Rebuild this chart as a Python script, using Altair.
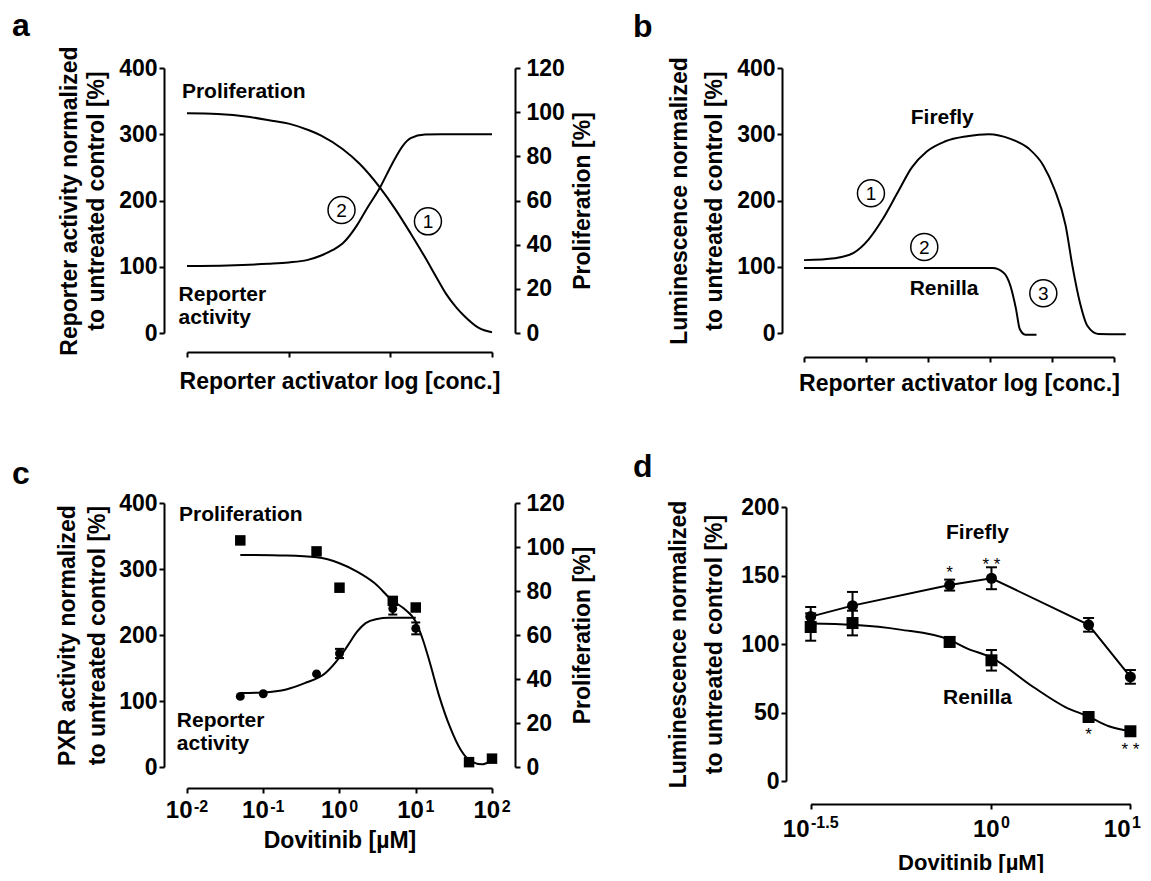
import altair as alt
import pandas as pd

FONT = "Liberation Sans"
W, H = 1135, 865

# ---------------- Panel a : schematic ----------------
a_rep_x = [0.0, 0.4, 0.8, 1.0, 1.18, 1.32, 1.43, 1.53, 1.67, 1.77, 1.9, 2.02, 2.13, 2.2, 2.34, 2.5, 3.0]
a_rep_y = [101, 102, 104.5, 106.5, 110, 117, 125, 135, 162, 188, 220, 256, 284, 294, 299.5, 300, 300]
a_pro_x = [0.0, 0.3, 0.62, 0.85, 1.0, 1.2, 1.32, 1.53, 1.7, 1.9, 2.05, 2.2, 2.34, 2.45, 2.55, 2.65, 2.73, 2.87, 3.0]
a_pro_y = [99.5, 99.2, 97.8, 96.0, 94.8, 91.8, 89.4, 83.3, 76.5, 65.7, 56.0, 45.1, 34.4, 25.5, 17.6, 11.5, 7.6, 2.3, 0.3]
a_lab_text = ["Proliferation", "Reporter", "activity"]
a_lab_x = [-0.05, -0.083, -0.083]
a_lab_y = [364.5, 57.4, 22.0]
a_num_text = ["2", "1"]
a_num_x = [1.52, 2.37]
a_num_y = [185.7, 168.6]

# ---------------- Panel b : schematic ----------------
b_ff_x = [0, 0.5, 0.8, 1.04, 1.27, 1.51, 1.74, 1.98, 2.27, 2.63, 2.98, 3.33, 3.63, 3.86, 4.04, 4.22, 4.33, 4.45, 4.57, 4.75, 5.19]
b_ff_y = [110, 113, 121, 141, 172, 212, 250, 274, 289, 297, 300, 293, 278, 253, 217, 162, 101, 46, 11, -1.5, -2]
b_rn_x = [0, 3.04, 3.22, 3.33, 3.42, 3.48, 3.57, 3.75]
b_rn_y = [98, 98, 91, 71, 36, 6, -2.5, -2.5]
b_lab_text = ["Firefly", "Renilla"]
b_lab_x = [2.23, 2.26]
b_lab_y = [325, 66]
b_num_text = ["1", "2", "3"]
b_num_x = [1.08, 1.94, 3.86]
b_num_y = [211, 130, 60]

# ---------------- Panel c : Dovitinib, PXR ----------------
c_pro_conc = [0.05, 0.5, 1, 5, 10, 50, 100]
c_pro_val = [103, 98, 81.5, 75.5, 72.5, 2.2, 3.8]
c_rep_conc = [0.05, 0.1, 0.5, 1, 5, 10]
c_rep_val = [107, 111, 141, 172, 240, 210]
c_rep_err = [0, 0, 0, 7, 9, 9]
c_rep_fit_x = [0.05, 0.1, 0.2, 0.35, 0.65, 1.0, 1.3, 1.7, 2.2, 3.0, 4.5, 10]
c_rep_fit_y = [112, 113, 117.5, 127, 142, 166, 185, 205, 218, 224, 226, 226]
c_pro_fit_x = [0.05, 0.2, 0.5, 1.0, 1.7, 2.9, 5, 7, 10, 12.5, 15, 20.4, 28, 39, 54, 74, 100]
c_pro_fit_y = [96.4, 96.1, 95.3, 92.6, 88.8, 83.5, 75.5, 72.0, 66.0, 57.5, 48.5, 32.0, 18.3, 7.7, 2.4, 1.2, 3.0]
c_lab_text = ["Proliferation", "Reporter", "activity"]
c_lab_x = [0.00785, 0.00735, 0.00735]
c_lab_y = [381.5, 69.7, 34.8]
c_ticks = [0.01, 0.1, 1, 10, 100]
c_exps = ["-2", "-1", "0", "1", "2"]

# ---------------- Panel d : Dovitinib, Firefly / Renilla ----------------
d_conc = [0.05, 0.1, 0.5, 1, 5, 10]
d_ff = [120, 128, 143, 148, 114, 76]
d_ff_err = [7, 10, 4, 8, 5, 5]
d_rn = [112.4, 115.3, 101.5, 88.1, 46.7, 36.3]
d_rn_err = [10, 9, 3.5, 7.5, 1, 1]
d_fit_x = [0.05, 0.1, 0.22, 0.5, 0.66, 1.0, 2.0, 3.4, 5, 7, 10]
d_fit_y = [115, 114, 110.5, 103, 97, 90, 68.6, 54, 47, 40, 36.3]
d_lab_text = ["Firefly", "Renilla"]
d_lab_x = [0.794, 0.794]
d_lab_y = [181.2, 60.8]
d_star_text = ["*", "* *", "*", "* *"]
d_star_x = [0.5, 1.0, 5, 10]
d_star_y = [151.8, 157.3, 33.7, 22.8]
d_ticks = [0.05, 1, 10]
d_exps = ["-1.5", "0", "1"]

# label nudges (styling only, pixels)
c_label_shift = [0, 0, 0, 0, 0]
d_label_shift = [0, 0, -8]


# ---------------- helpers ----------------
def lin(domain, rng):
    return alt.Scale(type="linear", domain=domain, range=rng, nice=False, zero=False)


def logs(domain, rng):
    return alt.Scale(type="log", domain=domain, range=rng, nice=False)


def line(xv, yv, xs, ys, xaxis=None, yaxis=None, interp="monotone"):
    d = pd.DataFrame({"x": xv, "y": yv})
    return alt.Chart(d).mark_line(color="black", strokeWidth=2, interpolate=interp).encode(
        x=alt.X("x:Q", scale=xs, axis=xaxis),
        y=alt.Y("y:Q", scale=ys, axis=yaxis),
    )


def texts(tv, xv, yv, xs, ys, size=21, weight="bold", align="left"):
    d = pd.DataFrame({"x": xv, "y": yv, "t": tv})
    return alt.Chart(d).mark_text(font=FONT, fontSize=size, fontWeight=weight, align=align,
                                  baseline="middle", color="black").encode(
        x=alt.X("x:Q", scale=xs, axis=None),
        y=alt.Y("y:Q", scale=ys, axis=None),
        text="t:N",
    )


def circled(tv, xv, yv, xs, ys):
    d = pd.DataFrame({"x": xv, "y": yv, "t": tv})
    ring = alt.Chart(d).mark_point(shape="circle", size=729, filled=False, color="black",
                                   strokeWidth=1.5, opacity=1).encode(
        x=alt.X("x:Q", scale=xs, axis=None), y=alt.Y("y:Q", scale=ys, axis=None))
    num = alt.Chart(d).mark_text(font=FONT, fontSize=19, fontWeight="normal", align="center",
                                 baseline="middle", color="black", dy=1).encode(
        x=alt.X("x:Q", scale=xs, axis=None), y=alt.Y("y:Q", scale=ys, axis=None), text="t:N")
    return [ring, num]


def markers(xv, yv, xs, ys, shape, size):
    d = pd.DataFrame({"x": xv, "y": yv})
    return alt.Chart(d).mark_point(shape=shape, size=size, filled=True, color="black", opacity=1).encode(
        x=alt.X("x:Q", scale=xs, axis=None), y=alt.Y("y:Q", scale=ys, axis=None))


def errbars(xv, yv, ev, xs, ys, cap):
    rows = [(x, y - e, y + e) for x, y, e in zip(xv, yv, ev) if e > 0]
    d = pd.DataFrame(rows, columns=["x", "lo", "hi"])
    out = [alt.Chart(d).mark_rule(color="black", strokeWidth=2).encode(
        x=alt.X("x:Q", scale=xs, axis=None),
        y=alt.Y("lo:Q", scale=ys, axis=None), y2="hi:Q")]
    for f in ["lo", "hi"]:
        out.append(alt.Chart(d).mark_point(shape="M -1 0 L 1 0", size=cap * cap, filled=False,
                                           color="black", strokeWidth=2, opacity=1).encode(
            x=alt.X("x:Q", scale=xs, axis=None), y=alt.Y(f + ":Q", scale=ys, axis=None)))
    return out


def log_labels(ticks, exps, shifts, xs, y10, yexp, f10=24, fexp=16):
    out = []
    for t, e, s in zip(ticks, exps, shifts):
        w10 = 2 * 0.556 * f10
        we = sum(0.333 if ch == "-" else 0.278 if ch == "." else 0.556 for ch in e) * fexp
        gap = 1.5
        left = -(w10 + gap + we) / 2 + s
        d = pd.DataFrame({"x": [t], "t": ["10"], "e": [e]})
        out.append(alt.Chart(d).mark_text(font=FONT, fontSize=f10, fontWeight="bold", align="right",
                                          baseline="alphabetic", dx=left + w10, color="black").encode(
            x=alt.X("x:Q", scale=xs, axis=None), y=alt.value(y10), text="t:N"))
        out.append(alt.Chart(d).mark_text(font=FONT, fontSize=fexp, fontWeight="bold", align="left",
                                          baseline="alphabetic", dx=left + w10 + gap, color="black").encode(
            x=alt.X("x:Q", scale=xs, axis=None), y=alt.value(yexp), text="e:N"))
    return out


def letter(t, px, py):
    d = pd.DataFrame({"t": [t]})
    return alt.Chart(d).mark_text(font=FONT, fontSize=32, fontWeight="bold", align="left",
                                  baseline="alphabetic", color="black").encode(
        x=alt.value(px), y=alt.value(py), text="t:N")


# ---------------- scales ----------------
XA = lin([0, 3], [179, 484])
YA_L = lin([0, 400], [325, 60])
YA_R = lin([0, 120], [325, 60])
XB = lin([0, 5], [796, 1106])
YB = lin([0, 400], [325, 60])
XC = logs([0.01, 100], [179, 484])
YC_L = lin([0, 400], [759, 495])
YC_R = lin([0, 120], [759, 495])
XD = logs([0.05, 10], [802.7, 1122.4])
YD = lin([0, 200], [773, 499])

# ---------------- axes ----------------
ax_a_x = alt.Axis(orient="bottom", offset=344 - H, values=[0, 1, 2, 3], labels=False,
                  title="Reporter activator log [conc.]", titlePadding=12)
ax_a_l = alt.Axis(orient="left", offset=-156, values=[0, 100, 200, 300, 400],
                  title=["Reporter activity normalized", "to untreated control [%]"],
                  titlePadding=10, titleLineHeight=27)
ax_a_r = alt.Axis(orient="right", offset=507 - W, values=[0, 20, 40, 60, 80, 100, 120],
                  title="Proliferation [%]", titleAngle=270, titleBaseline="top",
                  titlePadding=7, labelPadding=6)
ax_b_x = alt.Axis(orient="bottom", offset=349 - H, values=[0, 1, 2, 3, 4, 5], labels=False,
                  title="Reporter activator log [conc.]", titlePadding=9)
ax_b_l = alt.Axis(orient="left", offset=-774, values=[0, 100, 200, 300, 400],
                  title=["Luminescence normalized", "to untreated control [%]"],
                  titlePadding=10, titleLineHeight=35)
ax_c_x = alt.Axis(orient="bottom", offset=780 - H, values=c_ticks, labels=False,
                  title="Dovitinib [µM]", titlePadding=35)
ax_c_l = alt.Axis(orient="left", offset=-156, values=[0, 100, 200, 300, 400],
                  title=["PXR activity normalized", "to untreated control [%]"],
                  titlePadding=9, titleLineHeight=30)
ax_c_r = alt.Axis(orient="right", offset=507 - W, values=[0, 20, 40, 60, 80, 100, 120],
                  title="Proliferation [%]", titleAngle=270, titleBaseline="top",
                  titlePadding=7, labelPadding=6)
ax_d_x = alt.Axis(orient="bottom", offset=796 - H, values=d_ticks, labels=False,
                  title="Dovitinib [µM]", titlePadding=42, titleFontSize=22)
ax_d_l = alt.Axis(orient="left", offset=-778, values=[0, 50, 100, 150, 200],
                  title=["Luminescence normalized", "to untreated control [%]"],
                  titlePadding=14, titleLineHeight=36)

# ---------------- layers ----------------
L = []
# panel a
L.append(line(a_rep_x, a_rep_y, XA, YA_L, ax_a_x, ax_a_l))
L.append(line(a_pro_x, a_pro_y, XA, YA_R, None, ax_a_r))
L.append(texts(a_lab_text, a_lab_x, a_lab_y, XA, YA_L))
L += circled(a_num_text, a_num_x, a_num_y, XA, YA_L)
# panel b
L.append(line(b_ff_x, b_ff_y, XB, YB, ax_b_x, ax_b_l))
L.append(line(b_rn_x, b_rn_y, XB, YB))
L.append(texts(b_lab_text, b_lab_x, b_lab_y, XB, YB, align="center"))
L += circled(b_num_text, b_num_x, b_num_y, XB, YB)
# panel c
L.append(line(c_rep_fit_x, c_rep_fit_y, XC, YC_L, ax_c_x, ax_c_l))
L.append(line(c_pro_fit_x, c_pro_fit_y, XC, YC_R, None, ax_c_r))
L += errbars(c_rep_conc, c_rep_val, c_rep_err, XC, YC_L, 9)
L.append(markers(c_rep_conc, c_rep_val, XC, YC_L, "circle", 80))
L.append(markers(c_pro_conc, c_pro_val, XC, YC_R, "square", 110))
L.append(texts(c_lab_text, c_lab_x, c_lab_y, XC, YC_L))
L += log_labels(c_ticks, c_exps, c_label_shift, XC, 810, 804)
# panel d
L.append(line(d_conc, d_ff, XD, YD, ax_d_x, ax_d_l, interp="linear"))
L.append(line(d_fit_x, d_fit_y, XD, YD))
L += errbars(d_conc, d_ff, d_ff_err, XD, YD, 11)
L += errbars(d_conc, d_rn, d_rn_err, XD, YD, 11)
L.append(markers(d_conc, d_ff, XD, YD, "circle", 121))
L.append(markers(d_conc, d_rn, XD, YD, "square", 144))
L.append(texts(d_lab_text, d_lab_x, d_lab_y, XD, YD, align="center"))
L.append(texts(d_star_text, d_star_x, d_star_y, XD, YD, size=17, weight="normal", align="center"))
L += log_labels(d_ticks, d_exps, d_label_shift, XD, 829, 820)
# panel letters
L.append(letter("a", 4, 28))
L.append(letter("b", 625, 29))
L.append(letter("c", 4, 476))
L.append(letter("d", 625, 469))

chart = (
    alt.layer(*L)
    .resolve_scale(x="independent", y="independent")
    .properties(width=W, height=H, padding=0, autosize="none", background="white")
    .configure_view(stroke=None)
    .configure_axis(
        grid=False, domainColor="black", domainWidth=2, tickColor="black", tickWidth=2,
        tickSize=5, labelFont=FONT, labelFontSize=23, labelFontWeight="bold",
        labelColor="black", labelPadding=2, labelOverlap=False, labelFlush=False,
        titleFont=FONT, titleFontSize=23, titleFontWeight="bold", titleColor="black",
        minExtent=0, maxExtent=400,
    )
)

chart.save("out.html", embed_options={"renderer": "svg", "actions": False})
